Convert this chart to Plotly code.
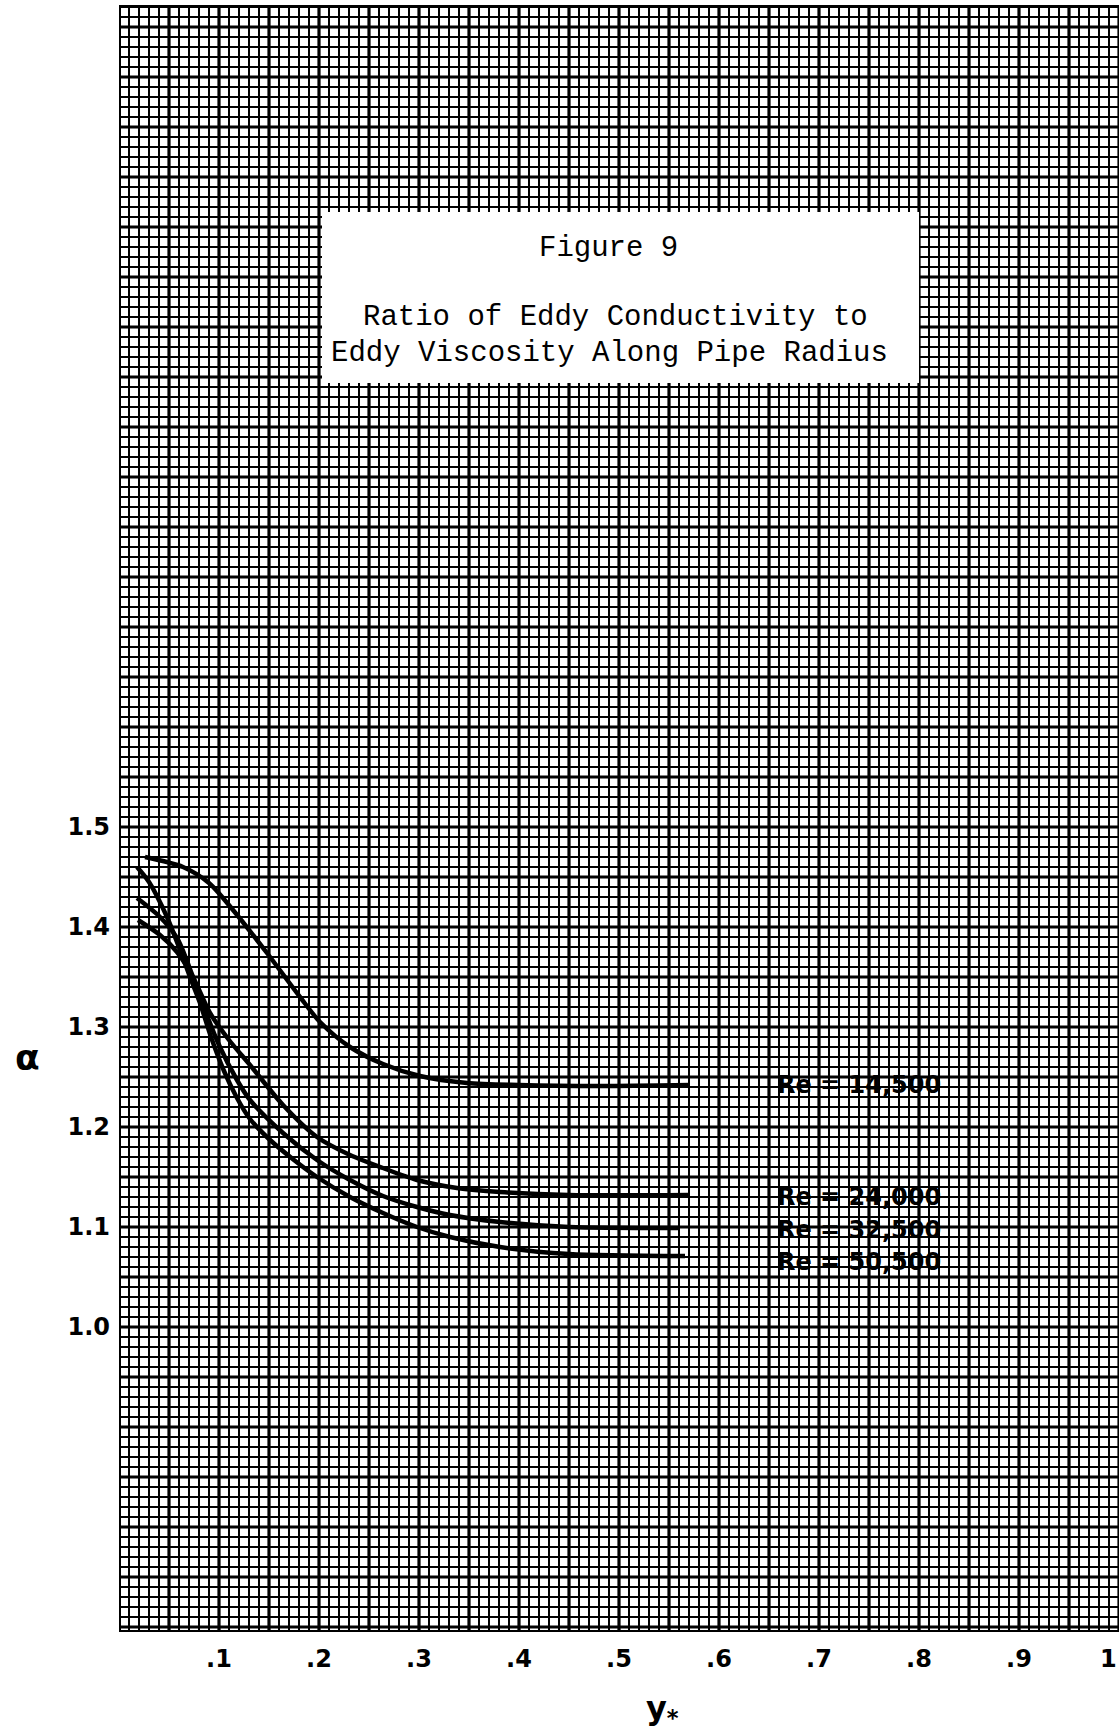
import plotly.graph_objects as go

# Eddy conductivity / eddy viscosity ratio (alpha) against dimensionless radius y*
re_labels = ["Re = 14,500", "Re = 24,000", "Re = 32,500", "Re = 50,500"]
re_label_alpha = [1.242, 1.130, 1.097, 1.065]

ystar_14500 = [0.026, 0.064, 0.090, 0.114, 0.148, 0.181, 0.201, 0.231, 0.264, 0.301, 0.348, 0.400, 0.480, 0.571]
alpha_14500 = [1.470, 1.460, 1.444, 1.417, 1.374, 1.330, 1.305, 1.280, 1.263, 1.251, 1.244, 1.242, 1.241, 1.242]

ystar_24000 = [0.019, 0.041, 0.058, 0.074, 0.091, 0.110, 0.131, 0.164, 0.198, 0.231, 0.264, 0.298, 0.338, 0.381, 0.450, 0.569]
alpha_24000 = [1.407, 1.392, 1.375, 1.350, 1.314, 1.287, 1.262, 1.222, 1.190, 1.172, 1.159, 1.147, 1.139, 1.135, 1.132, 1.132]

ystar_32500 = [0.018, 0.041, 0.058, 0.068, 0.075, 0.084, 0.100, 0.118, 0.131, 0.164, 0.198, 0.231, 0.264, 0.298, 0.331, 0.381, 0.450, 0.561]
alpha_32500 = [1.429, 1.410, 1.389, 1.366, 1.347, 1.322, 1.282, 1.247, 1.227, 1.194, 1.167, 1.147, 1.131, 1.120, 1.112, 1.105, 1.100, 1.099]

ystar_50500 = [0.018, 0.030, 0.048, 0.061, 0.071, 0.081, 0.092, 0.105, 0.118, 0.131, 0.150, 0.175, 0.198, 0.231, 0.264, 0.298, 0.331, 0.381, 0.450, 0.566]
alpha_50500 = [1.460, 1.445, 1.410, 1.377, 1.350, 1.324, 1.290, 1.256, 1.229, 1.208, 1.188, 1.167, 1.150, 1.130, 1.114, 1.100, 1.090, 1.080, 1.073, 1.071]

x_tickvals = [0.1, 0.2, 0.3, 0.4, 0.5, 0.6, 0.7, 0.8, 0.9]
x_ticktext = [".1", ".2", ".3", ".4", ".5", ".6", ".7", ".8", ".9"]
y_tickvals = [1.0, 1.1, 1.2, 1.3, 1.4, 1.5]
y_ticktext = ["1.0", "1.1", "1.2", "1.3", "1.4", "1.5"]

X_MIN, X_MAX = 0.0, 1.0
Y_MIN, Y_MAX = 0.695, 2.322

series = [
    (ystar_14500, alpha_14500),
    (ystar_24000, alpha_24000),
    (ystar_32500, alpha_32500),
    (ystar_50500, alpha_50500),
]

fig = go.Figure()

for (xs, ys), name in zip(series, re_labels):
    fig.add_trace(go.Scatter(
        x=xs, y=ys, mode="lines", name=name,
        line=dict(color="black", width=4.5, shape="spline", smoothing=0.8),
        showlegend=False, hoverinfo="skip",
    ))

# graph-paper ruling: fine lines every 0.01, heavier every 0.05
shapes = []
n_x = int(round((X_MAX - X_MIN) / 0.01))
for i in range(n_x + 1):
    xv = round(X_MIN + i * 0.01, 4)
    w = 3.2 if i % 5 == 0 else 2
    shapes.append(dict(type="line", xref="x", yref="y", x0=xv, x1=xv, y0=Y_MIN, y1=Y_MAX,
                       line=dict(color="black", width=w), layer="below"))
k0 = int(round(0.70 / 0.01))
k1 = int(round(2.32 / 0.01))
for k in range(k0, k1 + 1):
    yv = k / 100
    w = 3.2 if k % 5 == 0 else 2
    shapes.append(dict(type="line", xref="x", yref="y", x0=X_MIN, x1=X_MAX, y0=yv, y1=yv,
                       line=dict(color="black", width=w), layer="below"))
# paper border
for x0, x1, y0, y1 in [(X_MIN, X_MIN, Y_MIN, Y_MAX), (X_MIN, X_MAX, Y_MIN, Y_MIN), (X_MIN, X_MAX, Y_MAX, Y_MAX)]:
    shapes.append(dict(type="line", xref="x", yref="y", x0=x0, x1=x1, y0=y0, y1=y1,
                       line=dict(color="black", width=4), layer="below"))
# white caption panel
shapes.append(dict(type="rect", xref="x", yref="y", x0=0.203, x1=0.800, y0=1.944, y1=2.115,
                   fillcolor="white", line=dict(width=0), layer="above"))

title_font = dict(family="Liberation Mono", size=29, color="black")
label_font = dict(family="DejaVu Sans", size=24, color="black", weight="bold")

annotations = [
    dict(x=0.489, y=2.079, xref="x", yref="y", text="Figure 9", showarrow=False, font=title_font),
    dict(x=0.496, y=2.010, xref="x", yref="y", text="Ratio of Eddy Conductivity to",
         showarrow=False, font=title_font),
    dict(x=0.490, y=1.974, xref="x", yref="y", text="Eddy Viscosity Along Pipe Radius",
         showarrow=False, font=title_font),
    # axis titles and the end tick label sit outside the plotting range, so use paper refs
    dict(x=-0.106, y=0.353, xref="paper", yref="paper", text="α", showarrow=False,
         font=dict(family="DejaVu Sans", size=36, color="black", weight="bold")),
    dict(x=0.543, y=-0.062, xref="paper", yref="paper", text="y<sub>*</sub>", showarrow=False,
         font=dict(family="DejaVu Sans", size=32, color="black", weight="bold")),
    dict(x=1.0, y=-0.0168, xref="paper", yref="paper", text="1", showarrow=False,
         xanchor="right", yanchor="middle", font=label_font),
]
for name, ya in zip(re_labels, re_label_alpha):
    annotations.append(dict(x=0.656, y=ya, xref="x", yref="y", text=name, showarrow=False,
                            xanchor="left", yanchor="middle",
                            font=dict(family="DejaVu Sans", size=24, color="black", weight="bold")))

fig.update_layout(
    width=1119, height=1731,
    margin=dict(l=119, r=0, t=5, b=99, pad=0),
    paper_bgcolor="white", plot_bgcolor="white",
    shapes=shapes, annotations=annotations,
    xaxis=dict(range=[X_MIN, X_MAX], showgrid=False, zeroline=False, showline=False,
               tickmode="array", tickvals=x_tickvals, ticktext=x_ticktext, ticks="",
               ticklabelstandoff=10, tickfont=label_font),
    yaxis=dict(range=[Y_MIN, Y_MAX], showgrid=False, zeroline=False, showline=False,
               tickmode="array", tickvals=y_tickvals, ticktext=y_ticktext, ticks="",
               ticklabelstandoff=8, tickfont=label_font),
)

fig.write_html("out.html")
